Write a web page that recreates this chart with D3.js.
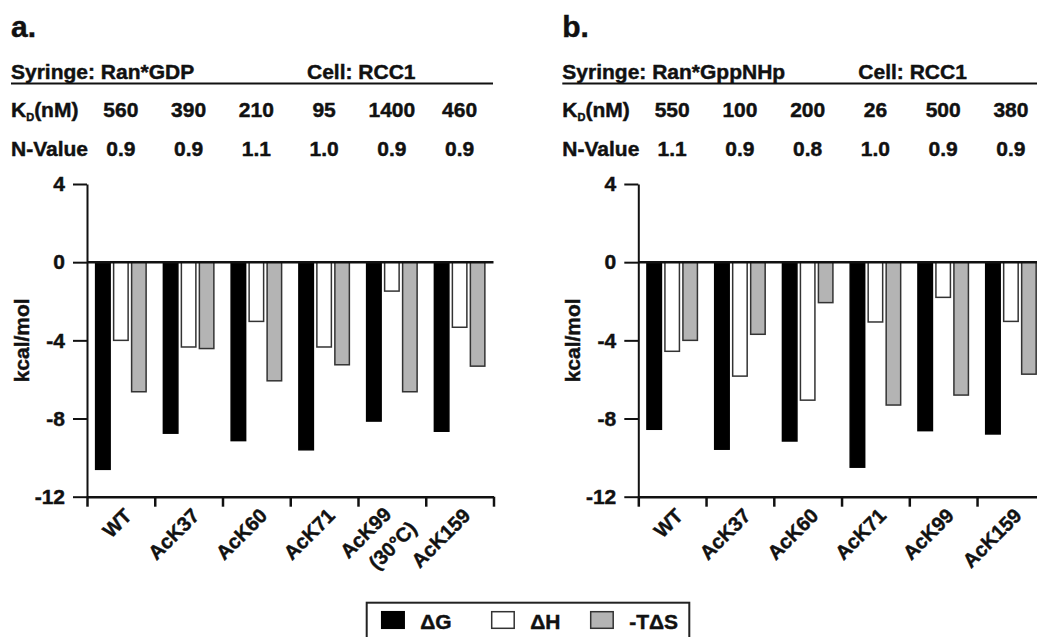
<!DOCTYPE html>
<html>
<head>
<meta charset="utf-8">
<script src="https://cdn.jsdelivr.net/npm/d3@7"></script>
<style>
  body { margin: 0; background: #fff; }
  svg text { font-family: "Liberation Sans", Arial, Helvetica, sans-serif; font-weight: bold; fill: #111; stroke: #111; stroke-width: 0.45px; }
</style>
</head>
<body>
<svg id="chart" width="1037" height="637"></svg>
<script>
// categories (tick labels, one array entry per line)
var labelsA = [["WT"], ["AcK37"], ["AcK60"], ["AcK71"], ["AcK99", "(30°C)"], ["AcK159"]]
var labelsB = [["WT"], ["AcK37"], ["AcK60"], ["AcK71"], ["AcK99"], ["AcK159"]]
var series = ["ΔG", "ΔH", "-TΔS"]

// header rows
var kdA = ["560", "390", "210", "95", "1400", "460"]
var nA = ["0.9", "0.9", "1.1", "1.0", "0.9", "0.9"]
var kdB = ["550", "100", "200", "26", "500", "380"]
var nB = ["1.1", "0.9", "0.8", "1.0", "0.9", "0.9"]

// kcal/mol values
var dGA = [-10.6, -8.75, -9.13, -9.6, -8.13, -8.65]
var dHA = [-4.0, -4.34, -3.03, -4.34, -1.48, -3.33]
var tdsA = [-6.63, -4.42, -6.07, -5.25, -6.63, -5.32]
var dGB = [-8.55, -9.57, -9.15, -10.49, -8.62, -8.79]
var dHB = [-4.56, -5.83, -7.06, -3.06, -1.8, -3.03]
var tdsB = [-4.0, -3.69, -2.07, -7.31, -6.8, -5.73]

var yTicks = [4, 0, -4, -8, -12]

var fills = ["#000", "#fff", "#b4b4b4"]
var strokes = ["#000", "#333", "#333"]

var svg = d3.select("#chart")

function drawPanel(p) {
  var g = svg.append("g")
  var names = p.labels.map(function (l) { return l.join(" ") })
  var groupW = 67.75

  var x = d3.scaleBand()
    .domain(names)
    .range([p.axisX, p.axisX + groupW * names.length])

  var xs = d3.scaleBand()
    .domain(series)
    .range([0, x.bandwidth()])
    .paddingInner(0.194)
    .paddingOuter(0.48)

  var y = d3.scaleLinear()
    .domain([-12, 4])
    .range([496.7, 184])

  // header
  g.append("text").attr("x", p.axisX - 76).attr("y", 37)
    .style("font-size", "30px").text(p.letter)
  g.append("text").attr("x", p.axisX - 76).attr("y", 79)
    .style("font-size", "21px").text(p.syringe)
  g.append("text").attr("x", p.axisX + 220).attr("y", 79)
    .style("font-size", "21px").text("Cell: RCC1")
  g.append("line")
    .attr("x1", p.axisX - 76).attr("x2", p.axisX + 406)
    .attr("y1", 83.5).attr("y2", 83.5)
    .attr("stroke", "#111").attr("stroke-width", 2)

  var kd = g.append("text").attr("x", p.axisX - 76).attr("y", 117).style("font-size", "21px")
  kd.append("tspan").text("K")
  kd.append("tspan").attr("dy", 4).style("font-size", "11px").text("D")
  kd.append("tspan").attr("dy", -4).text("(nM)")

  g.append("text").attr("x", p.axisX - 76).attr("y", 156)
    .style("font-size", "21px").text("N-Value")

  g.selectAll(".kd").data(p.kd).enter().append("text")
    .attr("x", function (d, i) { return x(names[i]) + x.bandwidth() / 2 })
    .attr("y", 117).attr("text-anchor", "middle").style("font-size", "21px")
    .text(function (d) { return d })

  g.selectAll(".nv").data(p.n).enter().append("text")
    .attr("x", function (d, i) { return x(names[i]) + x.bandwidth() / 2 })
    .attr("y", 156).attr("text-anchor", "middle").style("font-size", "21px")
    .text(function (d) { return d })

  // bars
  var vals = [p.dG, p.dH, p.tds]
  vals.forEach(function (arr, si) {
    g.selectAll(".bar" + si).data(arr).enter().append("rect")
      .attr("x", function (d, i) { return x(names[i]) + xs(series[si]) })
      .attr("y", y(0))
      .attr("width", xs.bandwidth())
      .attr("height", function (d) { return y(d) - y(0) })
      .attr("fill", fills[si])
      .attr("stroke", strokes[si])
      .attr("stroke-width", 1.5)
  })

  // zero line
  g.append("line")
    .attr("x1", p.axisX).attr("x2", p.axisX + groupW * names.length)
    .attr("y1", y(0)).attr("y2", y(0))
    .attr("stroke", "#111").attr("stroke-width", 2.5)

  // y axis
  var yAxis = g.append("g")
    .attr("transform", "translate(" + p.axisX + ",0)")
    .call(d3.axisLeft(y).tickValues(yTicks).tickSize(14).tickPadding(8).tickSizeOuter(0)
      .tickFormat(function (d) { return String(d) }))
  yAxis.selectAll("path, line").attr("stroke", "#111").attr("stroke-width", 2)
  yAxis.selectAll("text").style("font-size", "21px").attr("fill", "#111")
    .style("font-family", "'Liberation Sans', Arial, sans-serif")

  // x axis: ticks at group boundaries
  var xb = d3.scaleLinear().domain([0, names.length])
    .range([p.axisX, p.axisX + groupW * names.length])
  var xAxis = g.append("g")
    .attr("transform", "translate(0," + y(-12) + ")")
    .call(d3.axisBottom(xb).ticks(names.length).tickSize(10).tickSizeOuter(0).tickFormat(""))
  xAxis.selectAll("path, line").attr("stroke", "#111").attr("stroke-width", 2.5)

  // x labels
  p.labels.forEach(function (lines, i) {
    var cx = x(names[i]) + x.bandwidth() / 2
    var t = g.append("text")
      .attr("transform", "translate(" + (cx + 12) + "," + 517 + ") rotate(-45)")
      .attr("text-anchor", "end")
      .style("font-size", "20px")
    if (lines.length === 1) {
      t.append("tspan").attr("x", 0).attr("y", 0).text(lines[0])
    } else {
      t.append("tspan").attr("x", -7).attr("y", -9).text(lines[0])
      t.append("tspan").attr("x", 1).attr("y", 19).text(lines[1])
    }
  })

  // y title
  g.append("text")
    .attr("transform", "translate(" + (p.axisX - 58) + "," + ((y(4) + y(-12)) / 2) + ") rotate(-90)")
    .attr("text-anchor", "middle")
    .style("font-size", "21px")
    .text("kcal/mol")
}

drawPanel({ letter: "a.", syringe: "Syringe: Ran*GDP", axisX: 87, labels: labelsA,
  kd: kdA, n: nA, dG: dGA, dH: dHA, tds: tdsA })
drawPanel({ letter: "b.", syringe: "Syringe: Ran*GppNHp", axisX: 638.3, labels: labelsB,
  kd: kdB, n: nB, dG: dGB, dH: dHB, tds: tdsB })

// legend
var legend = svg.append("g")
legend.append("rect")
  .attr("x", 366.7).attr("y", 602.7).attr("width", 322.6).attr("height", 50)
  .attr("fill", "none").attr("stroke", "#222").attr("stroke-width", 2)
var legX = [381.7, 491.7, 590.7]
series.forEach(function (s, i) {
  legend.append("rect")
    .attr("x", legX[i]).attr("y", 611.7).attr("width", 22.5).attr("height", 16.6)
    .attr("fill", fills[i]).attr("stroke", strokes[i]).attr("stroke-width", 1.5)
  legend.append("text")
    .attr("x", legX[i] + 38.5).attr("y", 629)
    .style("font-size", "21px").text(s)
})
</script>
</body>
</html>
